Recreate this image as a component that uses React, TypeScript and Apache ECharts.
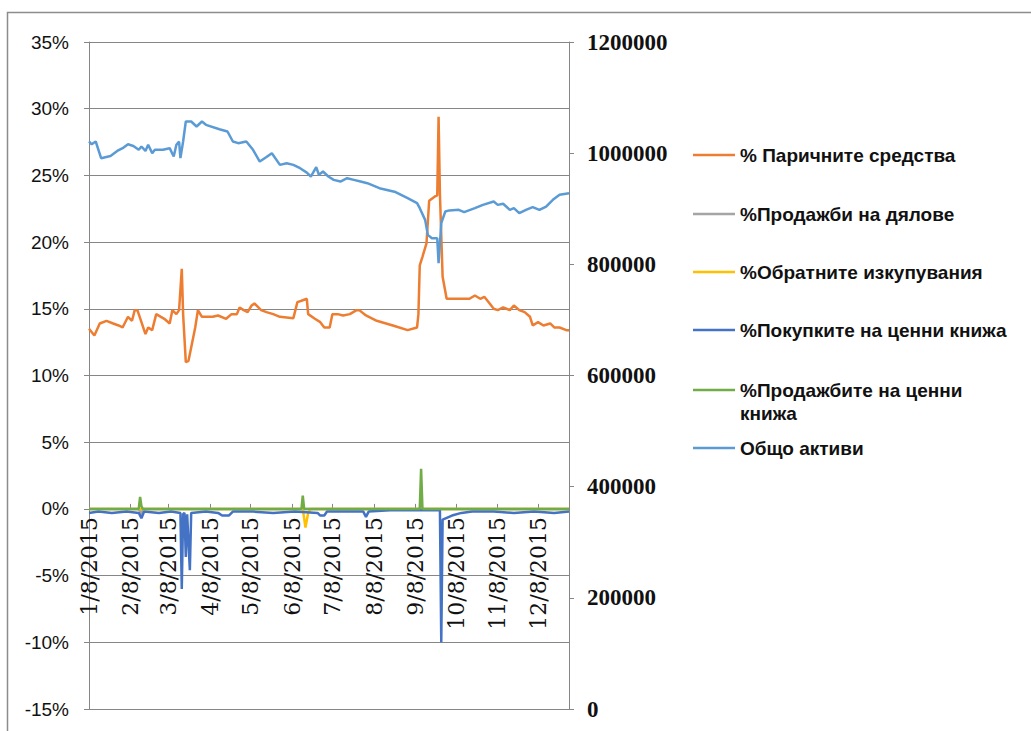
import React, { useEffect, useRef } from "react";
import * as echarts from "echarts";

const YEAR = 2015;

const tickLabels = [
  "1/8/2015", "2/8/2015", "3/8/2015", "4/8/2015", "5/8/2015", "6/8/2015",
  "7/8/2015", "8/8/2015", "9/8/2015", "10/8/2015", "11/8/2015", "12/8/2015",
];
const lastDate = "12/31";

const seriesNames = [
  "% Паричните средства",
  "%Продажби на дялове",
  "%Обратните изкупувания",
  "%Покупките на ценни книжа",
  "%Продажбите на ценни книжа",
  "Общо активи",
];
const seriesColors = ["#ED7D31", "#A5A5A5", "#FFC000", "#4472C4", "#70AD47", "#5B9BD5"];

const cashDates = [
  "1/8", "1/12", "1/16", "1/21", "1/26", "1/30", "2/2", "2/6", "2/9", "2/11", "2/13", "2/19",
  "2/21", "2/24", "2/27", "3/5", "3/9", "3/11", "3/14", "3/16", "3/18", "3/19", "3/21", "3/23",
  "3/25", "3/28", "3/30", "4/2", "4/10", "4/14", "4/20", "4/24", "4/28", "4/30", "5/3", "5/6",
  "5/9", "5/11", "5/14", "5/16", "5/20", "5/25", "5/30", "6/9", "6/12", "6/15", "6/19", "6/20",
  "6/25", "6/29", "7/2", "7/6", "7/8", "7/12", "7/16", "7/21", "7/26", "7/28", "8/2", "8/10",
  "8/22", "9/2", "9/9", "9/10", "9/11", "9/13", "9/16", "9/18", "9/22", "9/24", "9/25", "9/26",
  "9/28", "10/1", "10/18", "10/22", "10/26", "10/29", "11/2", "11/5", "11/8", "11/12", "11/17",
  "11/20", "11/24", "11/28", "12/2", "12/4", "12/8", "12/12", "12/17", "12/20", "12/24", "12/29",
  "12/31",
];
const cashValues = [
  13.5, 13.0, 13.9, 14.1, 13.9, 13.75, 13.6, 14.4, 14.1, 14.9, 14.9, 13.1,
  13.6, 13.4, 14.6, 14.25, 13.9, 14.9, 14.6, 14.9, 18.0, 14.6, 11.0, 11.1,
  12.1, 13.6, 14.9, 14.4, 14.4, 14.5, 14.25, 14.6, 14.6, 15.1, 14.9, 14.75,
  15.25, 15.4, 15.1, 14.9, 14.75, 14.6, 14.4, 14.3, 15.5, 15.6, 15.75, 14.6,
  14.25, 14.0, 13.6, 13.6, 14.6, 14.6, 14.5, 14.6, 14.9, 14.9, 14.5, 14.1,
  13.75, 13.4, 13.6, 14.6, 18.25, 18.9, 19.9, 23.1, 23.4, 23.5, 29.4, 23.6,
  17.4, 15.75, 15.75, 16.0, 15.75, 15.9, 15.4, 15.0, 14.9, 15.1, 14.9,
  15.25, 14.9, 14.75, 14.4, 13.75, 14.0, 13.75, 13.9, 13.6, 13.6, 13.4,
  13.4,
];

const shareSalesDates = ["1/8", "2/14", "2/15", "2/16", "2/17", "6/1", "9/1", "12/31"];
const shareSalesValues = [0, 0, -0.2, -0.6, 0, 0, 0, 0];

const redemptionDates = ["1/8", "6/16", "6/18", "6/20", "6/22", "12/31"];
const redemptionValues = [0, 0, -1.4, -0.3, 0, 0];

const purchaseDates = [
  "1/8", "1/15", "1/25", "2/5", "2/14", "2/16", "2/18", "3/1", "3/10", "3/17", "3/18", "3/19",
  "3/20", "3/21", "3/22", "3/24", "3/25", "4/5", "4/14", "4/17", "4/22", "4/25", "5/10", "5/25",
  "6/10", "6/27", "6/29", "7/2", "7/4", "7/20", "7/31", "8/2", "8/4", "8/20", "9/5", "9/26",
  "9/27", "9/28", "10/5", "10/12", "10/20", "11/5", "11/20", "12/5", "12/20", "12/31",
];
const purchaseValues = [
  -0.3, -0.2, -0.3, -0.2, -0.3, -0.7, -0.2, -0.3, -0.2, -0.3, -6.0, -0.4,
  -0.3, -3.6, -0.4, -4.6, -0.3, -0.2, -0.3, -0.5, -0.5, -0.2, -0.2, -0.3,
  -0.2, -0.3, -0.5, -0.5, -0.2, -0.2, -0.2, -0.6, -0.2, -0.1, -0.1, -0.1,
  -10.0, -0.8, -0.5, -0.3, -0.2, -0.2, -0.3, -0.2, -0.3, -0.2,
];

const securitySalesDates = ["1/8", "2/14", "2/15", "2/16", "2/17", "6/15", "6/16", "6/17", "9/11", "9/12", "9/13", "12/31"];
const securitySalesValues = [0, 0, 0.9, 0.2, 0, 0, 1.0, 0, 0, 3.0, 0, 0];

const assetDates = [
  "1/8", "1/10", "1/13", "1/17", "1/24", "1/29", "2/2", "2/6", "2/10", "2/14", "2/16", "2/19",
  "2/21", "2/24", "2/26", "3/4", "3/9", "3/12", "3/14", "3/16", "3/17", "3/19", "3/21", "3/25",
  "3/29", "4/2", "4/5", "4/15", "4/21", "4/25", "4/29", "5/5", "5/10", "5/15", "5/20", "5/24",
  "5/30", "6/4", "6/9", "6/14", "6/19", "6/22", "6/26", "6/28", "7/1", "7/5", "7/9", "7/14",
  "7/19", "7/24", "7/29", "8/3", "8/12", "8/24", "9/2", "9/9", "9/11", "9/15", "9/17", "9/20",
  "9/24", "9/25", "9/27", "9/30", "10/3", "10/10", "10/14", "10/22", "10/28", "11/5", "11/8",
  "11/12", "11/17", "11/20", "11/24", "11/29", "12/4", "12/9", "12/14", "12/19", "12/24", "12/31",
];
const assetValues = [
  1021000, 1016000, 1021000, 991000, 995000, 1004000, 1009000, 1016000, 1013000, 1006000, 1012000, 1004000,
  1015000, 1000000, 1006000, 1006000, 1009000, 994000, 1015000, 1021000, 991000, 1021000, 1057000, 1057000,
  1048000, 1057000, 1051000, 1043000, 1039000, 1021000, 1018000, 1021000, 1006000, 985000, 993000, 1000000,
  979000, 982000, 979000, 973000, 965000, 958000, 975000, 961000, 967000, 958000, 952000, 949000,
  955000, 952000, 949000, 946000, 937000, 930000, 919000, 910000, 901000, 880000, 853000, 847000,
  847000, 802000, 874000, 895000, 897000, 898000, 894000, 901000, 907000, 913000, 907000,
  909000, 898000, 901000, 892000, 898000, 903000, 898000, 904000, 916000, 925000, 928000,
];

function dayIndex(md: string): number {
  const [m, d] = md.split("/").map(Number);
  return (Date.UTC(YEAR, m - 1, d) - Date.UTC(YEAR, 0, 8)) / 86400000;
}

const tickDays = tickLabels.map((l) => dayIndex(l));

function pairs(dates: string[], values: number[]) {
  return dates.map((d, i) => [dayIndex(d), values[i]]);
}

const seriesData = [
  pairs(cashDates, cashValues),
  pairs(shareSalesDates, shareSalesValues),
  pairs(redemptionDates, redemptionValues),
  pairs(purchaseDates, purchaseValues),
  pairs(securitySalesDates, securitySalesValues),
  pairs(assetDates, assetValues),
];

const legendCenters = [155, 214, 272, 330, 390, 448];

const PCT_MIN = -15;
const PCT_MAX = 35;

export default function App() {
  const ref = useRef<HTMLDivElement>(null);

  useEffect(() => {
    if (!ref.current) return;
    const chart = echarts.init(ref.current, null, { renderer: "svg" });
    const axisGrey = "#868686";
    const lineIcon = "path://M0,0H0.1V0.1H0Z M0,10.25H42V12.75H0Z M41.9,22.9H42V23H41.9Z";
    const tallIcon = "path://M0,0H0.1V0.1H0Z M0,10.25H42V12.75H0Z M41.9,45.9H42V46H41.9Z";
    const gridTop = 42;
    const gridBottom = 22;
    const gridHeight = 731 - gridTop - gridBottom;
    // place the date axis where the percentage axis crosses zero (as in the source)
    const zeroOffset = -((0 - PCT_MIN) / (PCT_MAX - PCT_MIN)) * gridHeight;

    const option: any = {
      animation: false,
      backgroundColor: "#ffffff",
      grid: { left: 89, right: 462, top: gridTop, bottom: gridBottom, outerBoundsMode: "none" },
      graphic: [
        {
          type: "rect",
          z: -10,
          shape: { x: 7.5, y: 12.5, width: 1030, height: 740 },
          style: { fill: "none", stroke: "#8c8c8c", lineWidth: 1.5 },
          silent: true,
        },
      ],
      xAxis: {
        type: "value",
        min: 0,
        max: dayIndex(lastDate),
        offset: zeroOffset,
        splitLine: { show: false },
        axisLine: { show: true, onZero: false, lineStyle: { color: axisGrey, width: 1 } },
        axisTick: { show: true, inside: true, length: 5, customValues: tickDays, lineStyle: { color: axisGrey } },
        axisLabel: {
          customValues: tickDays,
          rotate: 90,
          margin: 8,
          fontFamily: "'DejaVu Serif', 'Liberation Serif', serif",
          fontSize: 22,
          color: "#111",
          formatter: (v: number) => {
            const i = tickDays.indexOf(Math.round(v));
            return i >= 0 ? tickLabels[i] : "";
          },
        },
      },
      yAxis: [
        {
          type: "value",
          min: PCT_MIN,
          max: PCT_MAX,
          interval: 5,
          axisLine: { show: true, onZero: false, lineStyle: { color: axisGrey } },
          axisTick: { show: true, length: 5, lineStyle: { color: axisGrey } },
          splitLine: { show: true, lineStyle: { color: axisGrey, width: 1 } },
          axisLabel: {
            margin: 20,
            formatter: (v: number) => `${v}%`,
            fontFamily: "'Liberation Sans Narrow', 'Liberation Sans', sans-serif",
            fontSize: 19,
            color: "#111",
          },
        },
        {
          type: "value",
          min: 0,
          max: 1200000,
          interval: 200000,
          position: "right",
          axisLine: { show: true, onZero: false, lineStyle: { color: axisGrey } },
          axisTick: { show: true, length: 5, lineStyle: { color: axisGrey } },
          splitLine: { show: false },
          axisLabel: {
            margin: 18,
            formatter: (v: number) => String(v),
            fontFamily: "'Liberation Serif', serif",
            fontWeight: "bold",
            fontSize: 23,
            color: "#111",
          },
        },
      ],
      legend: seriesNames.map((name, i) => {
        const tall = i === 4;
        const h = tall ? 46 : 23;
        return {
          data: [name],
          left: 693,
          top: legendCenters[i] - 11.5,
          padding: 0,
          orient: "vertical",
          selectedMode: false,
          itemWidth: 42,
          itemHeight: h,
          icon: tall ? tallIcon : lineIcon,
          itemStyle: { color: seriesColors[i], borderWidth: 0 },
          formatter: (n: string) => (tall ? n.replace(" книжа", "\nкнижа") : n),
          textStyle: {
            fontFamily: "'Liberation Sans', Arial, sans-serif",
            fontWeight: "bold",
            fontSize: 19,
            lineHeight: 23,
            color: "#111",
          },
        };
      }),
      series: seriesNames.map((name, i) => ({
        name,
        type: "line",
        yAxisIndex: i === 5 ? 1 : 0,
        data: seriesData[i],
        symbol: "none",
        color: seriesColors[i],
        lineStyle: { width: 2.5, color: seriesColors[i] },
        emphasis: { disabled: true },
      })),
    };
    chart.setOption(option);
    return () => chart.dispose();
  }, []);

  return (
    <div
      ref={ref}
      style={{ position: "fixed", left: 0, top: 0, width: 1031, height: 731, background: "#fff" }}
    />
  );
}
